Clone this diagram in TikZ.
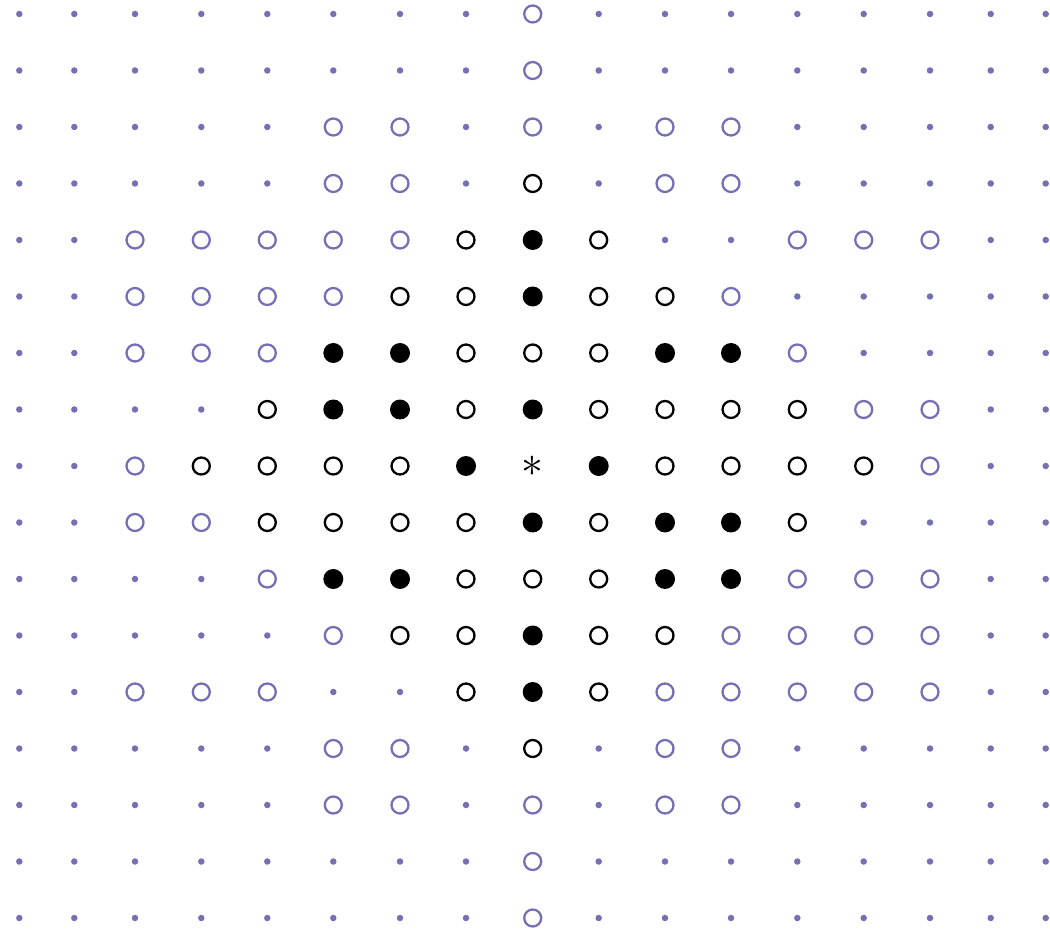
\documentclass[tikz,border=0pt]{standalone}
\usepackage{xcolor}
\usepackage{tikz}
\definecolor{gridpurple}{HTML}{7570B3}
\tikzset{
  gdot/.style={circle,fill=gridpurple,inner sep=0pt,minimum size=0.13cm},
  gring/.style={circle,draw=gridpurple,line width=1.3pt,inner sep=0pt,minimum size=0.34cm},
  bring/.style={gring,draw=black},
  bdisc/.style={circle,fill=black,inner sep=0pt,minimum size=0.4cm},
  ctrmark/.style={inner sep=0pt,minimum size=0.4cm,font=\fontsize{24}{28}\selectfont},
  pt-d/.style={gdot},
  pt-p/.style={gring},
  pt-o/.style={bring},
  pt-f/.style={bdisc},
  pt-a/.style={ctrmark},
}
\def\colxs{19.3,74.3,135,201.3,267.3,333.3,400,466,532.7,598.7,665,731,797.3,863.7,930,990.7,1045.7}

\begin{document}
\begin{tikzpicture}[x=0.02cm,y=0.02cm]
    \useasboundingbox (0,0) rectangle (1050,930);
    % d: grid point, p: purple ring, o: black ring, f: black disc, a: centre
    \foreach \row [count=\r from 0] in {
      {d,d,d,d,d,d,d,d,p,d,d,d,d,d,d,d,d},
      {d,d,d,d,d,d,d,d,p,d,d,d,d,d,d,d,d},
      {d,d,d,d,d,p,p,d,p,d,p,p,d,d,d,d,d},
      {d,d,d,d,d,p,p,d,o,d,p,p,d,d,d,d,d},
      {d,d,p,p,p,p,p,o,f,o,d,d,p,p,p,d,d},
      {d,d,p,p,p,p,o,o,f,o,o,p,d,d,d,d,d},
      {d,d,p,p,p,f,f,o,o,o,f,f,p,d,d,d,d},
      {d,d,d,d,o,f,f,o,f,o,o,o,o,p,p,d,d},
      {d,d,p,o,o,o,o,f,a,f,o,o,o,o,p,d,d},
      {d,d,p,p,o,o,o,o,f,o,f,f,o,d,d,d,d},
      {d,d,d,d,p,f,f,o,o,o,f,f,p,p,p,d,d},
      {d,d,d,d,d,p,o,o,f,o,o,p,p,p,p,d,d},
      {d,d,p,p,p,d,d,o,f,o,p,p,p,p,p,d,d},
      {d,d,d,d,d,p,p,d,o,d,p,p,d,d,d,d,d},
      {d,d,d,d,d,p,p,d,p,d,p,p,d,d,d,d,d},
      {d,d,d,d,d,d,d,d,p,d,d,d,d,d,d,d,d},
      {d,d,d,d,d,d,d,d,p,d,d,d,d,d,d,d,d}} {
      \foreach \t [count=\c from 0] in \row {
        \pgfmathsetmacro\xx{{\colxs}[\c]}
        \pgfmathsetmacro\yy{930-14-56.5*\r}
        \node[pt-\t] (v-\r-\c) at (\xx,\yy) {\if a\t$\ast$\fi};
      }
    }
\end{tikzpicture}
\end{document}
